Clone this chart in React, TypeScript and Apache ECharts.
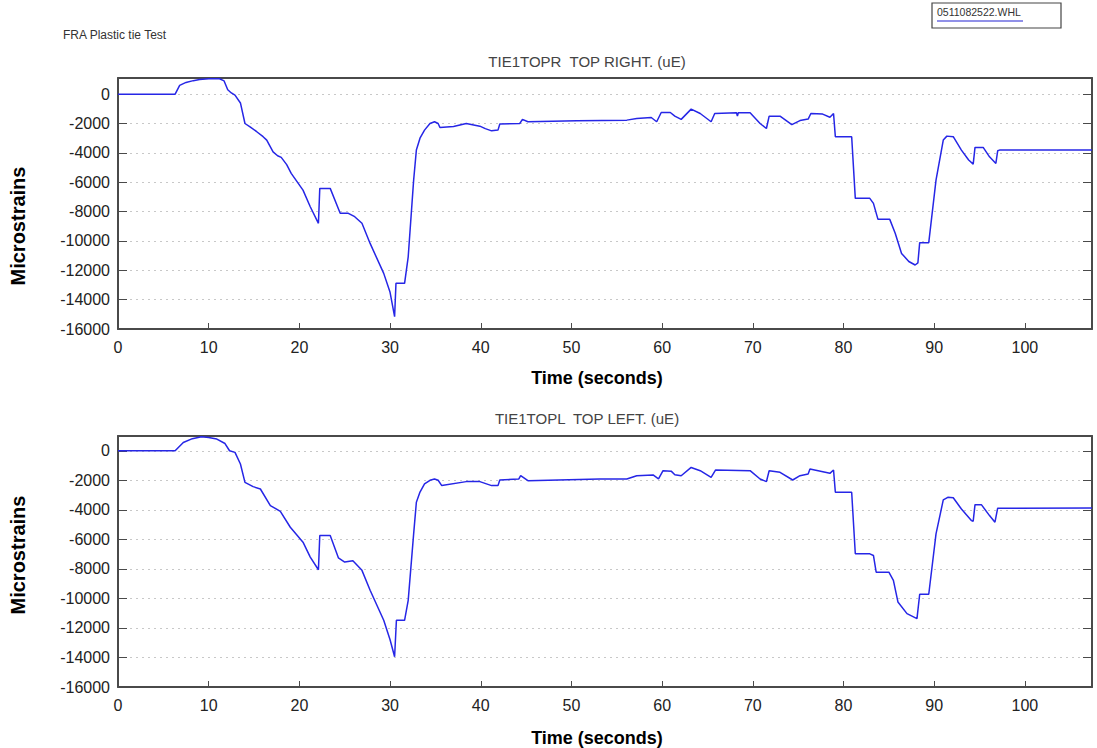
import React, { useEffect, useRef } from "react";
import * as echarts from "echarts";

// Top chart: TIE1TOPR (time in seconds, strain in microstrain)
const rightTime = [0, 6.3, 6.8, 7.5, 8.3, 9.0, 10, 11.2, 11.7, 12.1, 12.5, 12.9, 13.5, 14.0, 14.6, 15.3, 16.0, 16.4, 17.1, 17.6, 18.0, 18.6, 19.1, 20.4, 21.2, 22.1, 22.25, 23.4, 24.5, 25.4, 26.1, 26.9, 27.8, 29.3, 30.0, 30.5, 30.65, 31.6, 32.0, 32.6, 32.9, 33.3, 33.8, 34.4, 34.9, 35.3, 35.5, 37.0, 38.4, 39.9, 40.5, 41.2, 41.9, 42.1, 44.3, 44.6, 45.2, 50.6, 56.1, 57.2, 58.8, 59.4, 59.9, 60.9, 61.4, 62.1, 63.2, 64.2, 65.4, 65.8, 68.2, 68.3, 68.4, 69.7, 70.8, 71.5, 71.8, 73.0, 74.3, 75.2, 76.1, 76.4, 77.7, 78.5, 78.9, 79.1, 80.9, 81.3, 82.9, 83.3, 83.8, 85.1, 85.7, 86.4, 87.2, 87.9, 88.2, 88.4, 89.4, 90.2, 91.0, 91.4, 92.1, 93.0, 93.8, 94.3, 94.5, 95.4, 96.1, 96.8, 97.0, 97.2, 107.4];
const rightStrain = [0, 0, 600, 800, 920, 1000, 1050, 1050, 900, 300, 80, -70, -600, -2000, -2250, -2560, -2900, -3130, -3930, -4200, -4310, -4800, -5400, -6540, -7670, -8800, -6420, -6420, -8120, -8120, -8350, -8800, -10170, -12210, -13500, -15160, -12890, -12890, -11080, -5860, -3810, -3000, -2450, -2000, -1880, -2000, -2270, -2200, -2000, -2180, -2350, -2500, -2450, -2040, -2000, -1720, -1880, -1820, -1770, -1660, -1590, -1880, -1250, -1250, -1500, -1720, -1020, -1320, -1880, -1320, -1270, -1500, -1270, -1270, -2000, -2340, -1500, -1500, -2080, -1800, -1700, -1320, -1360, -1570, -1320, -2900, -2900, -7100, -7100, -7440, -8530, -8530, -9480, -10850, -11400, -11640, -11500, -10120, -10120, -5860, -3130, -2860, -2900, -3810, -4490, -4770, -3630, -3630, -4270, -4720, -3860, -3810, -3810];

// Bottom chart: TIE1TOPL
const leftTime = [0, 6.3, 7.2, 8.2, 9.2, 10.0, 10.9, 11.8, 12.3, 12.9, 13.5, 14.0, 14.9, 15.7, 16.8, 17.9, 19.0, 20.4, 21.2, 22.1, 22.25, 23.4, 24.3, 25.0, 25.9, 26.9, 27.8, 29.3, 30.0, 30.5, 30.7, 31.6, 32.0, 32.6, 32.9, 33.3, 33.8, 34.4, 34.9, 35.3, 35.7, 38.4, 39.9, 41.2, 41.9, 42.1, 44.2, 44.4, 45.2, 53.1, 56.1, 57.2, 59.0, 59.6, 60.1, 61.0, 61.4, 62.1, 63.2, 64.2, 65.4, 65.9, 69.7, 70.8, 71.5, 71.8, 73.0, 74.4, 75.2, 76.1, 76.3, 78.5, 78.9, 79.1, 80.9, 81.3, 82.9, 83.3, 83.6, 85.0, 85.5, 86.0, 87.0, 88.1, 88.4, 89.4, 90.2, 91.0, 91.5, 92.1, 93.0, 94.1, 94.3, 94.5, 95.2, 96.1, 96.7, 97.0, 107.4];
const leftStrain = [0, 0, 560, 820, 945, 900, 790, 490, 0, -110, -900, -2140, -2430, -2590, -3710, -4100, -5180, -6190, -7200, -8060, -5740, -5740, -7250, -7540, -7450, -8100, -9450, -11480, -12800, -13950, -11480, -11480, -10130, -5630, -3490, -2800, -2250, -2000, -1910, -2000, -2360, -2090, -2090, -2360, -2360, -1980, -1910, -1690, -2030, -1910, -1910, -1690, -1640, -1910, -1350, -1380, -1620, -1690, -1130, -1350, -1800, -1300, -1350, -1910, -2090, -1350, -1460, -1980, -1690, -1580, -1240, -1530, -1300, -2810, -2810, -6980, -6980, -7090, -8220, -8220, -8780, -10240, -11030, -11370, -9720, -9720, -5630, -3330, -3150, -3180, -3940, -4730, -4770, -3650, -3650, -4390, -4840, -3890, -3880];

const chartTitles = ["TIE1TOPR  TOP RIGHT. (uE)", "TIE1TOPL  TOP LEFT. (uE)"];
const yMaxes = [1100, 1000];
const yMin = -16000;
const yInterval = 2000;
const xMin = 0;
const xMax = 107.4;
const xInterval = 10;
const xLabelMax = 100;

const FONT = "Liberation Sans, Arial, sans-serif";
const AXIS = "#4a4a4a";
const LINE = "#2626e6";

export default function App() {
  const ref = useRef<HTMLDivElement>(null);
  useEffect(() => {
    if (!ref.current) return;
    const chart = echarts.init(ref.current, undefined, { renderer: "svg" });
    const grids = [
      { left: 118, top: 78, width: 974, height: 251 },
      { left: 118, top: 436, width: 974, height: 251 },
    ];
    const xAxes: any[] = [];
    const yAxes: any[] = [];
    grids.forEach((_, i) => {
      xAxes.push({
        type: "value", gridIndex: i, min: xMin, max: xMax, interval: xInterval, position: "bottom",
        axisLine: { show: true, onZero: false, lineStyle: { color: AXIS, width: 2 } },
        axisTick: { show: true, inside: true, length: 6, lineStyle: { color: AXIS } },
        axisLabel: {
          fontFamily: FONT, fontSize: 16, color: "#222", margin: 10,
          showMaxLabel: false,
          formatter: (v: number) => (v % xInterval === 0 && v <= xLabelMax ? String(v) : ""),
        },
        splitLine: { show: false },
      });
      xAxes.push({
        type: "value", gridIndex: i, min: xMin, max: xMax, interval: xInterval, position: "top",
        axisLine: { show: true, onZero: false, lineStyle: { color: AXIS, width: 2 } },
        axisTick: { show: false }, axisLabel: { show: false }, splitLine: { show: false },
      });
      yAxes.push({
        type: "value", gridIndex: i, min: yMin, max: yMaxes[i], interval: yInterval, position: "left",
        axisLine: { show: true, onZero: false, lineStyle: { color: AXIS, width: 2 } },
        axisTick: { show: true, inside: true, length: 9, lineStyle: { color: AXIS } },
        axisLabel: {
          fontFamily: FONT, fontSize: 16, color: "#222", margin: 8,
          showMaxLabel: false,
          formatter: (v: number) => (v % yInterval === 0 ? String(v) : ""),
        },
        splitLine: { show: true, lineStyle: { color: "#c8c8c8", type: [2, 4], width: 1 } },
      });
      yAxes.push({
        type: "value", gridIndex: i, min: yMin, max: yMaxes[i], interval: yInterval, position: "right",
        axisLine: { show: true, onZero: false, lineStyle: { color: AXIS, width: 2 } },
        axisTick: { show: true, inside: true, length: 9, lineStyle: { color: AXIS } },
        axisLabel: { show: false }, splitLine: { show: false },
      });
    });
    const mk = (t: number[], v: number[]) => t.map((x, i) => [x, v[i]]);
    const option: any = {
      animation: false,
      backgroundColor: "#fff",
      grid: grids,
      xAxis: xAxes,
      yAxis: yAxes,
      title: [
        { text: "FRA Plastic tie Test", left: 58, top: 24, textStyle: { fontFamily: FONT, fontSize: 12, fontWeight: "normal", color: "#333" } },
        { text: chartTitles[0], left: 582, top: 49, textAlign: "center", textStyle: { fontFamily: FONT, fontSize: 15, fontWeight: "normal", color: "#444" } },
        { text: chartTitles[1], left: 582, top: 406, textAlign: "center", textStyle: { fontFamily: FONT, fontSize: 15, fontWeight: "normal", color: "#444" } },
      ],
      graphic: [
        { type: "text", x: 597, y: 378, style: { text: "Time (seconds)", font: `bold 18px ${FONT}`, fill: "#000", align: "center", verticalAlign: "middle" } },
        { type: "text", x: 597, y: 738, style: { text: "Time (seconds)", font: `bold 18px ${FONT}`, fill: "#000", align: "center", verticalAlign: "middle" } },
        { type: "text", x: 18, y: 226, rotation: Math.PI / 2, style: { text: "Microstrains", font: `bold 20px ${FONT}`, fill: "#000", align: "center", verticalAlign: "middle" } },
        { type: "text", x: 18, y: 555, rotation: Math.PI / 2, style: { text: "Microstrains", font: `bold 20px ${FONT}`, fill: "#000", align: "center", verticalAlign: "middle" } },
        { type: "rect", shape: { x: 932, y: 3, width: 129, height: 25 }, style: { fill: "#fff", stroke: "#444", lineWidth: 1.2 } },
        { type: "text", x: 937, y: 12, style: { text: "0511082522.WHL", font: `10.5px ${FONT}`, fill: "#333", verticalAlign: "middle" } },
        { type: "line", shape: { x1: 937, y1: 21, x2: 1023, y2: 21 }, style: { stroke: "#6b6be0", lineWidth: 1.5 } },
      ],
      series: [
        { type: "line", xAxisIndex: 0, yAxisIndex: 0, data: mk(rightTime, rightStrain), showSymbol: false, symbol: "none", lineStyle: { color: LINE, width: 1.5 }, clip: true },
        { type: "line", xAxisIndex: 2, yAxisIndex: 2, data: mk(leftTime, leftStrain), showSymbol: false, symbol: "none", lineStyle: { color: LINE, width: 1.5 }, clip: true },
      ],
    };
    chart.setOption(option);
    return () => chart.dispose();
  }, []);
  return <div ref={ref} style={{ position: "fixed", left: 0, top: 0, width: 1097, height: 748, background: "#fff" }} />;
}
